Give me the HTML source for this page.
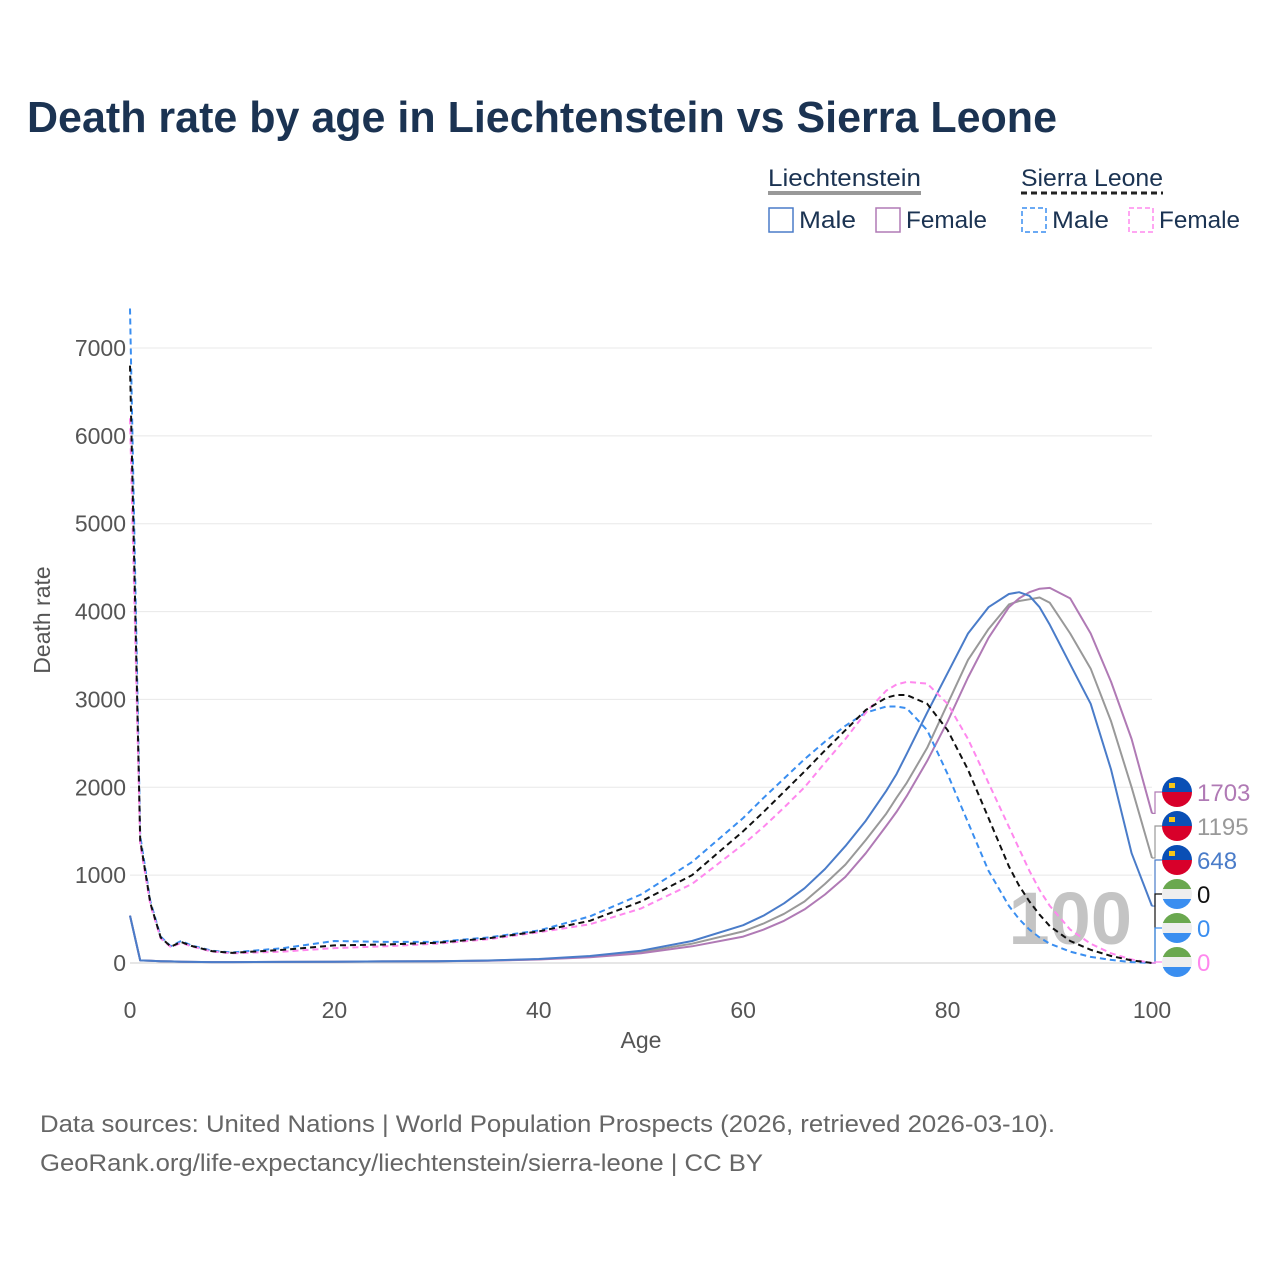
<!DOCTYPE html>
<html><head><meta charset="utf-8"><style>
body{margin:0;background:#fff;font-family:"Liberation Sans",sans-serif}
svg text{font-family:"Liberation Sans",sans-serif}
</style></head><body>
<svg id="chart" width="1280" height="1280" viewBox="0 0 1280 1280" xmlns="http://www.w3.org/2000/svg">
<text x="27" y="132" font-size="44" font-weight="bold" fill="#1b3352" textLength="1030" lengthAdjust="spacingAndGlyphs">Death rate by age in Liechtenstein vs Sierra Leone</text>
<g font-size="24" fill="#333">
 <text x="768" y="186" fill="#1b3352" textLength="153" lengthAdjust="spacingAndGlyphs">Liechtenstein</text>
 <line x1="768" y1="193" x2="921" y2="193" stroke="#999" stroke-width="4"/>
 <text x="1021" y="186" fill="#1b3352" textLength="142" lengthAdjust="spacingAndGlyphs">Sierra Leone</text>
 <line x1="1021" y1="193" x2="1163" y2="193" stroke="#222" stroke-width="3" stroke-dasharray="6,4"/>
 <g><rect x="769" y="208" width="24" height="24" fill="none" stroke="#4a7cc9" stroke-width="1.5"/><text x="799" y="228" fill="#1b3352" textLength="57" lengthAdjust="spacingAndGlyphs">Male</text></g>
 <g><rect x="876" y="208" width="24" height="24" fill="none" stroke="#b07ab5" stroke-width="1.5"/><text x="906" y="228" fill="#1b3352" textLength="81" lengthAdjust="spacingAndGlyphs">Female</text></g>
 <g><rect x="1022" y="208" width="24" height="24" fill="none" stroke="#3a8ef0" stroke-width="1.5" stroke-dasharray="5,3"/><text x="1052" y="228" fill="#1b3352" textLength="57" lengthAdjust="spacingAndGlyphs">Male</text></g>
 <g><rect x="1129" y="208" width="24" height="24" fill="none" stroke="#ff88ee" stroke-width="1.5" stroke-dasharray="5,3"/><text x="1159" y="228" fill="#1b3352" textLength="81" lengthAdjust="spacingAndGlyphs">Female</text></g>
</g>
<g id="grid"></g>
<g id="axes"></g>
<text x="1132" y="944" font-size="74" font-weight="bold" fill="#c4c4c4" text-anchor="end">100</text>
<g id="series"></g>
<g id="endlabels"></g>
<text transform="translate(50,620) rotate(-90)" font-size="23" fill="#555" text-anchor="middle">Death rate</text>
<text x="641" y="1048" font-size="23" fill="#555" text-anchor="middle">Age</text>
<text x="40" y="1132" font-size="24" fill="#666" textLength="1015" lengthAdjust="spacingAndGlyphs">Data sources: United Nations | World Population Prospects (2026, retrieved 2026-03-10).</text>
<text x="40" y="1171" font-size="24" fill="#666" textLength="723" lengthAdjust="spacingAndGlyphs">GeoRank.org/life-expectancy/liechtenstein/sierra-leone | CC BY</text>
</svg>
<script>
const ages=[0,1,2,3,4,5,6,8,10,15,20,25,30,35,40,45,50,55,60,62,64,66,68,70,72,74,75,76,78,80,82,84,86,87,88,89,90,92,94,96,98,100];
const liMale=[540,30,25,20,18,15,12,10,10,12,15,18,20,28,45,80,140,250,430,540,680,850,1070,1330,1620,1960,2150,2380,2850,3300,3750,4050,4200,4220,4180,4050,3850,3400,2950,2200,1250,648];
const liTotal=[540,30,25,20,18,15,12,10,10,12,15,18,20,27,42,72,125,220,360,450,560,700,900,1120,1400,1700,1880,2050,2450,2950,3450,3800,4080,4120,4140,4160,4100,3750,3350,2750,2000,1195];
const liFemale=[540,30,25,20,18,15,12,10,10,12,15,18,20,25,40,65,110,190,300,380,480,610,780,980,1250,1560,1720,1900,2300,2750,3250,3700,4050,4150,4220,4260,4270,4150,3750,3200,2550,1703];
const slMale=[7450,1450,700,300,190,250,200,140,120,170,250,240,240,290,370,530,780,1150,1650,1880,2100,2320,2520,2700,2850,2920,2920,2900,2650,2150,1600,1050,650,500,380,290,220,130,70,35,10,0];
const slTotal=[6800,1400,680,290,185,240,195,135,115,150,200,210,230,280,360,480,700,1000,1500,1720,1950,2180,2420,2650,2880,3020,3050,3050,2950,2650,2200,1650,1100,880,700,550,420,250,150,80,30,0];
const slFemale=[6200,1350,660,280,180,230,190,130,110,130,170,190,220,270,350,440,620,900,1350,1550,1770,2000,2280,2550,2850,3100,3170,3200,3180,2950,2550,2050,1550,1300,1050,830,650,380,220,110,40,0];
const yTicks=[0,1000,2000,3000,4000,5000,6000,7000];
const xTicks=[0,20,40,60,80,100];
const NS="http://www.w3.org/2000/svg";
const X=a=>130+a*(1152-130)/100;
const Y=v=>963-v*(963-348)/7000;
function mk(t,attrs,parent){const e=document.createElementNS(NS,t);for(const k in attrs)e.setAttribute(k,attrs[k]);parent.appendChild(e);return e;}
const grid=document.getElementById('grid'),axes=document.getElementById('axes');
yTicks.forEach(v=>{
 const l=mk('line',{x1:130,x2:1152,y1:Y(v),y2:Y(v),stroke:v===0?'#ccc':'#e8e8e8','stroke-width':1},grid);
 
 
 const t=mk('text',{x:126,y:Y(v)+8,'font-size':23,fill:'#555','text-anchor':'end'},axes);
 t.textContent=v;
 
 
});
xTicks.forEach(a=>{
 const t=mk('text',{x:X(a),y:1018,'font-size':23,fill:'#555','text-anchor':'middle'},axes);
 t.textContent=a;
 
 
});
const series=[
 {d:liTotal,c:'#999',dash:'',n:'line-li-total'},
 {d:liFemale,c:'#b07ab5',dash:'',n:'line-li-female'},
 {d:liMale,c:'#4a7cc9',dash:'',n:'line-li-male'},
 {d:slMale,c:'#3a8ef0',dash:'6,4',n:'line-sl-male'},
 {d:slFemale,c:'#ff88ee',dash:'6,4',n:'line-sl-female'},
 {d:slTotal,c:'#111',dash:'6,4',n:'line-sl-total'}
];
const sg=document.getElementById('series');
series.forEach(s=>{
 const pts=ages.map((a,i)=>X(a).toFixed(1)+','+Y(s.d[i]).toFixed(1)).join(' ');
 const p=mk('polyline',{points:pts,fill:'none',stroke:s.c,'stroke-width':2,'stroke-linejoin':'round'},sg);
 if(s.dash)p.setAttribute('stroke-dasharray',s.dash);
 
 
});
const last=ages.length-1;
const labels=[
 {v:liFemale[last],c:'#b07ab5',ly:792,li:true},
 {v:liTotal[last],c:'#999',ly:826,li:true},
 {v:liMale[last],c:'#4a7cc9',ly:860,li:true},
 {v:slTotal[last],c:'#111',ly:894,li:false},
 {v:slMale[last],c:'#3a8ef0',ly:928,li:false},
 {v:slFemale[last],c:'#ff88ee',ly:962,li:false}
];
const eg=document.getElementById('endlabels');
labels.forEach(L=>{
 const yv=Y(L.v);
 const c=mk('polyline',{points:`1152,${yv} 1155,${yv} 1155,${L.ly} 1162,${L.ly}`,fill:'none',stroke:L.c,'stroke-width':1.2},eg);
 
 
 const g=mk('g',{},eg);
 
 
 const cx=1177,cy=L.ly,r=15;
 const cp=mk('clipPath',{id:'cp'+L.ly},g);
 mk('circle',{cx:cx,cy:cy,r:r},cp);
 const cg=mk('g',{'clip-path':`url(#cp${L.ly})`},g);
 if(L.li){
  mk('rect',{x:cx-r,y:cy-r,width:30,height:15,fill:'#0a4fb5'},cg);
  mk('rect',{x:cx-r,y:cy,width:30,height:15,fill:'#d8002a'},cg);
  mk('rect',{x:cx-8,y:cy-9,width:6,height:5,fill:'#f5c518'},cg);
 }else{
  mk('rect',{x:cx-r,y:cy-r,width:30,height:10,fill:'#6aa84f'},cg);
  mk('rect',{x:cx-r,y:cy-5,width:30,height:10,fill:'#eee'},cg);
  mk('rect',{x:cx-r,y:cy+5,width:30,height:10,fill:'#3a8ef0'},cg);
 }
 const t=mk('text',{x:1197,y:L.ly+9,'font-size':24,fill:L.c},eg);
 t.textContent=L.v;
 
 
});
</script>
</body></html>
